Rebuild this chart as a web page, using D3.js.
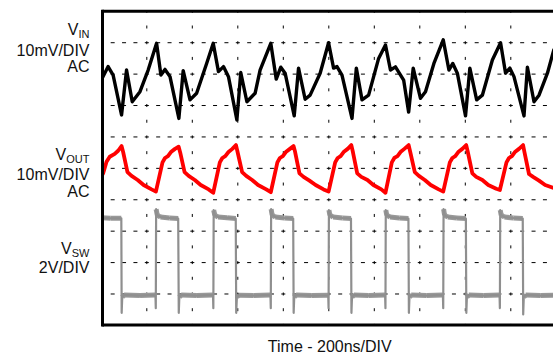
<!DOCTYPE html>
<html><head><meta charset="utf-8">
<script src="https://cdn.jsdelivr.net/npm/d3@7"></script>
<style>html,body{margin:0;padding:0;background:#fff;}svg{display:block;}</style>
</head><body>
<script>
// ---- data (time in ns, amplitude in screen divisions, 0 = bottom, 10 = top) ----
const timeTicks = [0,200,400,600,800,1000,1200,1400,1600,1800,2000];
const divTicks = [0,1,2,3,4,5,6,7,8,9,10];
const xTitle = "Time - 200ns/DIV";

const vinTime = [0,30,52,89,111,136,170,206,243,262,280,302,341,360,390,419,463,492,515,537,559,596,613,640,676,698,745,769,789,808,848,867,896,918,962,999,1021,1036,1058,1102,1121,1146,1175,1219,1249,1271,1293,1329,1351,1371,1403,1425,1462,1503,1528,1545,1565,1601,1620,1650,1675,1719,1755,1777,1796,1814,1858,1873,1902,1924,1961,1989];
const vinVal  = [7.81,8.24,7.97,6.70,8.13,7.12,7.44,8.13,8.98,7.97,8.15,7.92,6.59,8.11,7.18,7.39,8.34,8.98,8.08,8.24,7.92,6.54,8.05,7.12,7.39,8.13,8.98,7.84,8.22,8.03,6.67,8.19,7.20,7.33,8.03,9.00,8.19,8.24,7.97,6.59,8.19,7.18,7.33,8.50,8.93,8.13,8.23,7.81,6.79,8.19,7.23,7.44,8.34,9.09,8.13,8.34,8.03,6.67,8.19,7.18,7.33,8.45,9.00,8.03,8.19,7.92,6.67,8.22,7.12,7.33,8.03,8.77];

const voutTime = [0,8,23,37,59,74,89,96,115,133,160,186,221,240,269,280,293,306,324,340,347,366,384,411,437,472,492,521,532,545,559,576,592,599,619,637,663,689,725,745,774,785,798,811,829,845,852,871,889,915,942,977,999,1028,1039,1052,1065,1083,1099,1106,1125,1143,1170,1196,1231,1249,1277,1288,1302,1315,1332,1351,1358,1378,1396,1422,1448,1483,1503,1532,1543,1556,1569,1587,1604,1611,1631,1648,1675,1701,1736,1752,1781,1792,1805,1818,1836,1854,1860,1880,1898,1924,1951,1989,2000];
const voutVal  = [4.74,4.84,5.21,5.37,5.46,5.56,5.71,5.52,4.88,4.76,4.63,4.47,4.33,4.26,5.19,5.33,5.39,5.52,5.62,5.69,5.50,4.88,4.76,4.63,4.47,4.33,4.22,5.19,5.33,5.39,5.52,5.62,5.74,5.52,4.88,4.76,4.63,4.47,4.33,4.24,5.19,5.33,5.39,5.52,5.62,5.71,5.52,4.84,4.73,4.61,4.47,4.33,4.26,5.19,5.33,5.39,5.52,5.62,5.74,5.52,4.84,4.73,4.63,4.47,4.33,4.22,5.19,5.33,5.39,5.52,5.62,5.74,5.52,4.88,4.76,4.63,4.47,4.33,4.26,5.19,5.33,5.39,5.52,5.62,5.74,5.52,4.84,4.73,4.63,4.47,4.35,4.31,5.19,5.33,5.39,5.52,5.62,5.74,5.52,4.82,4.73,4.61,4.47,4.37,4.34];

const vswTime = [0,40,88,89.5,92,100,170,238,239.5,241,246,260,300,338,340.5,343,351,420,491,492.5,494,499,513,553,591,593,596,604,670,743.5,745,746.5,751,765,805,843.5,845.5,848,856,925,997.5,999,1000.5,1005,1019,1060,1097.5,1099.5,1102,1110,1175,1247.5,1249,1250.5,1255,1269,1310,1350,1352,1354.5,1362,1430,1501.5,1503,1504.5,1509,1523,1563,1602.5,1604.5,1607,1615,1680,1750.5,1752,1753.5,1758,1772,1812,1852.5,1854.5,1857,1865,1930,2000];
const vswVal  = [3.43,3.41,3.41,0.40,0.90,0.97,0.95,0.97,0.55,3.70,3.51,3.45,3.42,3.40,0.40,0.90,0.97,0.95,0.97,0.55,3.67,3.51,3.45,3.43,3.40,0.40,0.90,0.96,0.95,0.97,0.55,3.70,3.51,3.45,3.42,3.40,0.40,0.90,0.97,0.95,0.96,0.55,3.67,3.51,3.45,3.42,3.40,0.40,0.90,0.97,0.95,0.97,0.55,3.67,3.51,3.45,3.42,3.40,0.40,0.90,0.97,0.95,0.97,0.55,3.70,3.51,3.45,3.42,3.40,0.40,0.90,0.97,0.95,0.97,0.55,3.67,3.51,3.45,3.42,3.40,0.35,0.90,0.97,0.95,0.96];

const channelNames = ["V","V","V"];
const channelSubs = ["IN","OUT","SW"];
const channelScales = [["10mV/DIV","AC"],["10mV/DIV","AC"],["2V/DIV"]];

// ---- layout ----
const W = 553, H = 354;
const x0 = 101.3, x1 = 556.3, yTop = 11.3, yBot = 325.4;
const x = d3.scaleLinear().domain([0,2000]).range([x0,x1]);
const y = d3.scaleLinear().domain([0,10]).range([yBot,yTop]);
const FONT = "'Liberation Sans', Arial, Helvetica, sans-serif";

const svg = d3.select("body").append("svg").attr("width",W).attr("height",H);

svg.append("defs").append("clipPath").attr("id","clip")
  .append("rect").attr("x",x0+1).attr("y",yTop+1).attr("width",x1-x0-1).attr("height",yBot-yTop-2);

// grid
const hx = (x1-x0)/10/4, vy = (yBot-yTop)/10/2;
const grid = svg.append("g");
grid.selectAll("line.h").data(divTicks.slice(1,-1)).join("line")
  .attr("x1",x0).attr("x2",x1).attr("y1",d=>y(d)).attr("y2",d=>y(d))
  .attr("stroke","#000").attr("stroke-width",1)
  .attr("stroke-dasharray",`4,${hx-4}`).attr("stroke-dashoffset",2);
grid.selectAll("line.v").data(timeTicks.slice(1,-1)).join("line")
  .attr("x1",d=>x(d)).attr("x2",d=>x(d)).attr("y1",yTop).attr("y2",yBot)
  .attr("stroke","#000").attr("stroke-width",1)
  .attr("stroke-dasharray",`3,${vy-3}`).attr("stroke-dashoffset",1.5);

// traces
const traces = svg.append("g").attr("clip-path","url(#clip)");
const line = d3.line().x(d=>x(d[0])).y(d=>y(d[1]));

const vsw = vswTime.map((t,i)=>[t,vswVal[i]]);
// noise band on flat parts
const flats = [];
for (let i=0;i<vsw.length-1;i++){
  if (Math.abs(vsw[i+1][1]-vsw[i][1])<0.2) flats.push([vsw[i],vsw[i+1]]);
}
traces.selectAll("line.band").data(flats).join("line")
  .attr("x1",d=>x(d[0][0])).attr("y1",d=>y(d[0][1]))
  .attr("x2",d=>x(d[1][0])).attr("y2",d=>y(d[1][1]))
  .attr("stroke","#999").attr("stroke-width",5);
traces.append("path").attr("d",line(vsw)).attr("fill","none")
  .attr("stroke","#8f8f8f").attr("stroke-width",2.2).attr("stroke-linejoin","round");

traces.append("path").attr("d",line(voutTime.map((t,i)=>[t,voutVal[i]])))
  .attr("fill","none").attr("stroke","#ff0000").attr("stroke-width",3.8)
  .attr("stroke-linejoin","round").attr("stroke-linecap","round");

traces.append("path").attr("d",line(vinTime.map((t,i)=>[t,vinVal[i]])))
  .attr("fill","none").attr("stroke","#000").attr("stroke-width",3.4)
  .attr("stroke-linejoin","round").attr("stroke-linecap","round");

// frame
const frame = svg.append("g").attr("stroke","#000").attr("stroke-width",3);
frame.append("line").attr("x1",x0+1).attr("x2",W).attr("y1",yTop).attr("y2",yTop);
frame.append("line").attr("x1",x0+1).attr("x2",W).attr("y1",yBot-0.4).attr("y2",yBot-0.4);
frame.append("line").attr("x1",x0+1.2).attr("x2",x0+1.2).attr("y1",yTop-1.5).attr("y2",yBot+1.1);

// channel labels
const labelBase = [[35,56,72],[160,180,197],[254,273]];
const lx = 89.5;
channelNames.forEach((n,i)=>{
  const t = svg.append("text").attr("x",lx).attr("y",labelBase[i][0])
    .attr("text-anchor","end").attr("font-family",FONT).attr("font-size",16).attr("fill","#111");
  t.append("tspan").text(n);
  t.append("tspan").attr("font-size",11).attr("dy",2.5).text(channelSubs[i]);
  channelScales[i].forEach((s,j)=>{
    svg.append("text").attr("x",lx).attr("y",labelBase[i][j+1])
      .attr("text-anchor","end").attr("font-family",FONT).attr("font-size",16).attr("fill","#111").text(s);
  });
});

svg.append("text").attr("x",(x0+x1)/2+1).attr("y",351.5).attr("text-anchor","middle")
  .attr("font-family",FONT).attr("font-size",16).attr("fill","#111").text(xTitle);
</script>
</body></html>
